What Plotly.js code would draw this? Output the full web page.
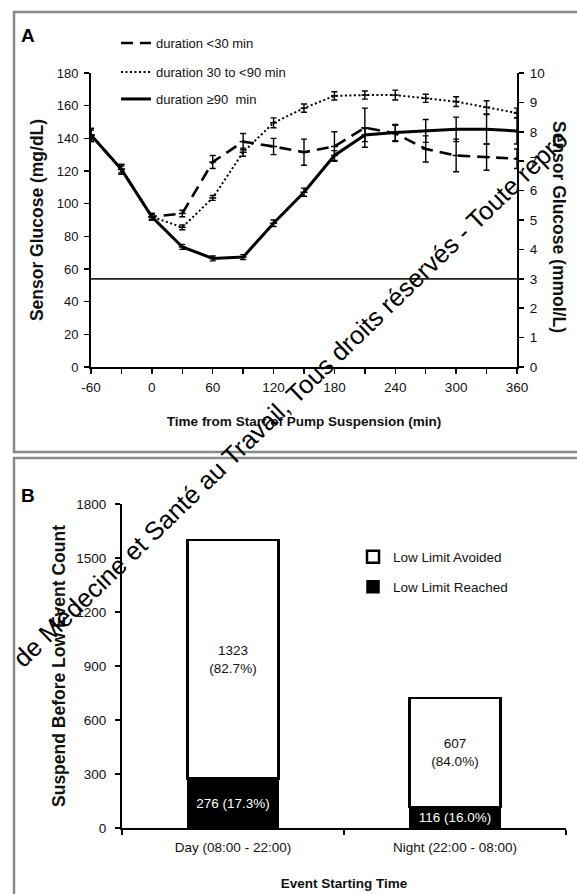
<!DOCTYPE html>
<html><head><meta charset="utf-8">
<script src="https://cdn.plot.ly/plotly-3.0.1.min.js"></script>
<style>html,body{margin:0;padding:0;background:#fff}#chart{width:577px;height:894px}</style>
</head><body><div id="chart"></div>
<script>
// ---------- Panel A data ----------
const timeMin = [-60, -30, 0, 30, 60, 90, 120, 150, 180, 210, 240, 270, 300, 330, 360];
const glucoseShort    = [142, 121, 92, 94, 125.5, 138, 135, 131.5, 135, 146.5, 143, 133.5, 129.5, 128.5, 127.5];
const glucoseShortErr = [4, 3, 2, 2, 4, 5, 5, 8, 9, 12, 5, 8, 10, 8, 6];
const glucoseMid      = [142, 121, 92, 85.5, 103.5, 131.5, 149.5, 158.5, 166, 166.5, 166.5, 164.5, 162.5, 159, 155.5];
const glucoseMidErr   = [3, 2, 1.5, 1.5, 1.5, 2.5, 3, 2.5, 2.5, 2.5, 3, 2.5, 3, 4, 3];
const glucoseLong     = [142, 121, 92, 73.5, 66.5, 67.3, 88, 107, 129.5, 142, 143.5, 144.5, 145.5, 145.5, 144.5];
const glucoseLongErr  = [4, 3, 2, 1.5, 1.5, 1.5, 2, 2.5, 3, 4, 5, 7, 7.5, 9, 8];
const seriesNames = ['duration <30 min', 'duration 30 to <90 min', 'duration \u226590  min'];
const timeTickVals = [-60, 0, 60, 120, 180, 240, 300, 360];
const timeTickText = ['-60', '0', '60', '120', '180', '240', '300', '360'];
const lowThresholdMmol = 3.0;
const mgdlRange = [0, 180];   // left axis range
const mmolRange = [0, 10];    // right axis range

// ---------- Panel B data ----------
const periods = ['Day (08:00 - 22:00)', 'Night (22:00 - 08:00)'];
const reachedCounts = [276, 116];
const avoidedCounts = [1323, 607];
const barNames = ['Low Limit Reached', 'Low Limit Avoided'];

// ---------- helpers ----------
const W = 577, H = 894;
const fx = p => p / W;
const fy = p => 1 - p / H;
const SANS = '"Liberation Sans", Arial, sans-serif';

const totals = reachedCounts.map((r, i) => r + avoidedCounts[i]);
const reachedText = reachedCounts.map((r, i) => r + ' (' + (100 * r / totals[i]).toFixed(1) + '%)');
const avoidedText = avoidedCounts.map((a, i) => a + '<br>(' + (100 * a / totals[i]).toFixed(1) + '%)');

function glucoseTrace(y, err, dash, width) {
  return {
    x: timeMin, y: y, type: 'scatter', mode: 'lines+markers', xaxis: 'x', yaxis: 'y',
    line: {color: '#000', width: width, dash: dash},
    marker: {symbol: 'line-ew', size: 5, color: '#000', line: {color: '#000', width: 1.5}},
    error_y: {type: 'data', array: err, visible: true, color: '#000', thickness: 1.4, width: 3},
    showlegend: false, hoverinfo: 'skip'
  };
}
function legendLine(name, dash, width, legendId) {
  return {
    x: [null], y: [null], type: 'scatter', mode: 'lines', xaxis: 'x', yaxis: 'y',
    name: name, line: {color: '#000', width: width, dash: dash}, legend: legendId, showlegend: true
  };
}

const DASH = '12px,7px';
const DOT = '2px,2.5px';

const traces = [
  glucoseTrace(glucoseMid, glucoseMidErr, DOT, 2),
  glucoseTrace(glucoseShort, glucoseShortErr, DASH, 2.6),
  glucoseTrace(glucoseLong, glucoseLongErr, 'solid', 3),
  {
    x: [timeMin[0], timeMin[timeMin.length - 1]], y: [lowThresholdMmol, lowThresholdMmol],
    type: 'scatter', mode: 'lines', xaxis: 'x', yaxis: 'y3',
    line: {color: '#222', width: 1.8}, showlegend: false, hoverinfo: 'skip'
  },
  legendLine(seriesNames[0], DASH, 2.6, 'legend'),
  legendLine(seriesNames[1], DOT, 2, 'legend3'),
  legendLine(seriesNames[2], 'solid', 3, 'legend4'),
  {
    x: periods, y: reachedCounts, type: 'bar', xaxis: 'x2', yaxis: 'y2', name: barNames[0],
    marker: {color: '#000', line: {color: '#000', width: 1.5}},
    text: reachedText, textposition: 'inside', insidetextanchor: 'middle', constraintext: 'none',
    textfont: {color: '#fff', size: 13.5, family: SANS}, legend: 'legend5', hoverinfo: 'skip'
  },
  {
    x: periods, y: avoidedCounts, type: 'bar', xaxis: 'x2', yaxis: 'y2', name: barNames[1],
    marker: {color: '#fff', line: {color: '#000', width: 2.5}},
    text: avoidedText, textposition: 'inside', insidetextanchor: 'middle', constraintext: 'none',
    textfont: {color: '#111', size: 13.5, family: SANS}, legend: 'legend2', hoverinfo: 'skip'
  }
];

const tickFont = {family: SANS, size: 13, color: '#111'};
const legendBase = {xanchor: 'left', yanchor: 'middle', bgcolor: 'rgba(0,0,0,0)', borderwidth: 0,
  itemwidth: 30, font: {family: SANS, size: 13, color: '#111'}};

const layout = {
  width: W, height: H, margin: {l: 0, r: 0, t: 0, b: 0},
  paper_bgcolor: '#fff', plot_bgcolor: 'rgba(0,0,0,0)',
  barmode: 'stack', bargap: 0.59,
  xaxis: {
    domain: [fx(91), fx(517)], anchor: 'y', range: [-60, 360],
    tickmode: 'array', tickvals: timeTickVals, ticktext: timeTickText,
    ticks: 'outside', ticklen: 5, tickwidth: 1.5, tickcolor: '#000',
    minor: {tick0: -30, dtick: 60, ticks: 'outside', ticklen: 5, tickwidth: 1.5, tickcolor: '#000'},
    showline: true, linecolor: '#000', linewidth: 2, showgrid: false, zeroline: false,
    tickfont: {family: SANS, size: 13.5, color: '#111'}, automargin: false, ticklabelstandoff: 2,
    title: {text: '<b>Time from Start of Pump Suspension (min)</b>', standoff: 22,
      font: {family: SANS, size: 13.5, color: '#111'}}
  },
  yaxis: {
    domain: [fy(367), fy(73)], anchor: 'x', range: mgdlRange, dtick: 20,
    ticks: 'outside', ticklen: 5, tickwidth: 1.5, tickcolor: '#000',
    showline: true, linecolor: '#000', linewidth: 2, showgrid: false, zeroline: false,
    tickfont: tickFont, automargin: false, ticklabelstandoff: 3,
    title: {text: '<b>Sensor Glucose (mg/dL)</b>', standoff: 9,
      font: {family: SANS, size: 17.5, color: '#111'}}
  },
  yaxis3: {
    overlaying: 'y', side: 'right', anchor: 'x', range: mmolRange, dtick: 1,
    ticks: 'outside', ticklen: 5, tickwidth: 1.5, tickcolor: '#000',
    showline: true, linecolor: '#000', linewidth: 2, showgrid: false, zeroline: false,
    tickfont: {family: SANS, size: 13.5, color: '#111'}, automargin: false, ticklabelstandoff: 3
  },
  xaxis2: {
    domain: [fx(122), fx(566)], anchor: 'y2', type: 'category', tickson: 'boundaries',
    ticks: 'outside', ticklen: 5, tickwidth: 1.5, tickcolor: '#000',
    showline: true, linecolor: '#000', linewidth: 2, showgrid: false, zeroline: false,
    tickfont: {family: SANS, size: 13.5, color: '#111'}, automargin: false, ticklabelstandoff: 6,
    title: {text: '<b>Event Starting Time</b>', standoff: 24,
      font: {family: SANS, size: 13.5, color: '#111'}}
  },
  yaxis2: {
    domain: [fy(828), fy(504)], anchor: 'x2', range: [0, 1800], dtick: 300,
    ticks: 'outside', ticklen: 5, tickwidth: 1.5, tickcolor: '#000',
    showline: true, linecolor: '#000', linewidth: 2, showgrid: false, zeroline: false,
    tickfont: {family: SANS, size: 13.5, color: '#111'}, automargin: false, ticklabelstandoff: 6,
    title: {text: '<b>Suspend Before Low Event Count</b>', standoff: 6,
      font: {family: SANS, size: 17.5, color: '#111'}}
  },
  legend: Object.assign({}, legendBase, {x: fx(116), y: fy(43)}),
  legend3: Object.assign({}, legendBase, {x: fx(116), y: fy(72)}),
  legend4: Object.assign({}, legendBase, {x: fx(116), y: fy(99)}),
  legend2: Object.assign({}, legendBase, {x: fx(353), y: fy(557), font: {family: SANS, size: 13.5, color: '#111'}}),
  legend5: Object.assign({}, legendBase, {x: fx(353), y: fy(587), font: {family: SANS, size: 13.5, color: '#111'}}),
  shapes: [
    {type: 'rect', xref: 'paper', yref: 'paper', x0: fx(14), x1: 1.02, y0: fy(452), y1: fy(12),
      line: {color: '#8a8a8a', width: 2.5}, fillcolor: 'rgba(0,0,0,0)', layer: 'below'},
    {type: 'rect', xref: 'paper', yref: 'paper', x0: fx(14), x1: 1.02, y0: -0.02, y1: fy(458),
      line: {color: '#8a8a8a', width: 2.5}, fillcolor: 'rgba(0,0,0,0)', layer: 'below'}
  ],
  annotations: [
    {text: '<b>A</b>', xref: 'paper', yref: 'paper', x: fx(28), y: fy(35), xanchor: 'center', yanchor: 'middle',
      showarrow: false, font: {family: SANS, size: 19, color: '#000'}},
    {text: '<b>B</b>', xref: 'paper', yref: 'paper', x: fx(28), y: fy(495), xanchor: 'center', yanchor: 'middle',
      showarrow: false, font: {family: SANS, size: 19, color: '#000'}},
    {text: '<b>Sensor Glucose (mmol/L)</b>', xref: 'paper', yref: 'paper', x: fx(559), y: fy(227),
      xanchor: 'center', yanchor: 'middle',
      textangle: 90, showarrow: false, font: {family: SANS, size: 17.5, color: '#111'}},
    {text: 'de M\u00e9decine et Sant\u00e9 au Travail, Tous droits r\u00e9serv\u00e9s - Toute repro',
      xref: 'paper', yref: 'paper', x: fx(290), y: fy(399), xanchor: 'center', yanchor: 'middle',
      textangle: -44, showarrow: false, font: {family: SANS, size: 25.5, color: '#000'}}
  ]
};

Plotly.newPlot('chart', traces, layout, {staticPlot: true, displayModeBar: false});
</script>
</body></html>
